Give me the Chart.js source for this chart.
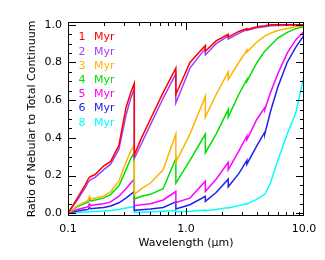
<!DOCTYPE html>
<html>
<head>
<meta charset="utf-8">
<script src="https://cdn.jsdelivr.net/npm/chart.js@4.4.1/dist/chart.umd.min.js"></script>
<style>
  html, body { margin: 0; padding: 0; background: #fff; }
  #wrap { width: 325px; height: 260px; position: relative; }
</style>
</head>
<body>
<div id="wrap"><canvas id="mycanvas" width="325" height="260"></canvas></div>
<script>
// wavelength grid (micron); repeated values are the jumps
var wavelength = [0.1, 0.12, 0.14, 0.148, 0.152, 0.156, 0.17, 0.2, 0.23, 0.27, 0.31, 0.34, 0.3646, 0.3646,
    0.42, 0.5, 0.64, 0.8204, 0.8204, 1.08, 1.4584, 1.4584, 1.8, 2.279, 2.279, 2.8, 3.28, 3.28,
    4.0, 4.65, 4.65, 5.2, 6.0, 7.2, 8.5, 10.0];

var myr1 = [0.0, 0.08, 0.15, 0.18, 0.19, 0.195, 0.205, 0.25, 0.275, 0.36, 0.56, 0.64, 0.69, 0.31,
    0.40, 0.50, 0.64, 0.77, 0.63, 0.80, 0.89, 0.86, 0.915, 0.95, 0.935, 0.965, 0.98, 0.975,
    0.99, 0.995, 0.995, 1.0, 1.0, 1.0, 1.0, 1.0];
var myr2 = [0.0, 0.07, 0.135, 0.165, 0.172, 0.178, 0.19, 0.23, 0.26, 0.34, 0.52, 0.61, 0.66, 0.29,
    0.37, 0.47, 0.61, 0.74, 0.585, 0.77, 0.875, 0.84, 0.90, 0.94, 0.925, 0.955, 0.975, 0.97,
    0.985, 0.99, 0.99, 0.995, 0.997, 0.998, 0.999, 1.0];
var myr3 = [0.0, 0.04, 0.06, 0.068, 0.09, 0.075, 0.08, 0.09, 0.115, 0.17, 0.27, 0.33, 0.36, 0.10,
    0.13, 0.16, 0.23, 0.42, 0.27, 0.42, 0.62, 0.51, 0.63, 0.75, 0.71, 0.80, 0.865, 0.855,
    0.91, 0.94, 0.94, 0.955, 0.97, 0.98, 0.99, 0.995];
var myr4 = [0.0, 0.035, 0.052, 0.058, 0.075, 0.065, 0.07, 0.08, 0.10, 0.145, 0.23, 0.29, 0.32, 0.075,
    0.09, 0.10, 0.13, 0.29, 0.16, 0.28, 0.42, 0.32, 0.42, 0.55, 0.51, 0.63, 0.71, 0.70,
    0.80, 0.86, 0.86, 0.89, 0.93, 0.96, 0.98, 0.99];
var myr5 = [0.0, 0.02, 0.03, 0.034, 0.05, 0.04, 0.045, 0.05, 0.06, 0.09, 0.13, 0.16, 0.18, 0.04,
    0.045, 0.05, 0.07, 0.115, 0.057, 0.08, 0.17, 0.115, 0.18, 0.27, 0.23, 0.33, 0.41, 0.39,
    0.50, 0.56, 0.55, 0.64, 0.74, 0.85, 0.92, 0.965];
var myr6 = [0.0, 0.012, 0.018, 0.02, 0.03, 0.024, 0.026, 0.03, 0.038, 0.055, 0.08, 0.10, 0.115, 0.015,
    0.018, 0.022, 0.03, 0.06, 0.022, 0.045, 0.09, 0.063, 0.11, 0.18, 0.14, 0.21, 0.28, 0.26,
    0.36, 0.43, 0.42, 0.54, 0.67, 0.80, 0.88, 0.945];
var myr8 = [0.0, 0.003, 0.006, 0.007, 0.009, 0.008, 0.009, 0.011, 0.014, 0.02, 0.027, 0.032, 0.036, 0.004,
    0.005, 0.007, 0.01, 0.014, 0.008, 0.01, 0.017, 0.013, 0.02, 0.03, 0.027, 0.04, 0.05, 0.048,
    0.075, 0.10, 0.10, 0.16, 0.28, 0.42, 0.53, 0.73];

var ages = ['1', '2', '3', '4', '5', '6', '8'];
var series = [myr1, myr2, myr3, myr4, myr5, myr6, myr8];
var colors = ['#ff0000', '#a040ff', '#ffb400', '#00e000', '#ff00ff', '#2020f0', '#00ffff'];
var xTicks = [0.1, 1, 10];
var yTicks = [0, 0.2, 0.4, 0.6, 0.8, 1.0];

var font = "'DejaVu Sans', sans-serif";

var datasets = [];
for (var i in series) {
    datasets.push({
        label: ages[i] + ' Myr',
        data: wavelength.map(function(w, j) { return {x: w, y: series[i][j]}; }),
        borderColor: colors[i],
        borderWidth: 1.5,
        pointRadius: 0,
        tension: 0,
        fill: false
    });
}

// IDL style: frame with inward ticks on all four sides + legend text
var framePlugin = {
    id: 'frame',
    afterDraw: function(chart) {
        var ctx = chart.ctx;
        var a = chart.chartArea;
        var xs = chart.scales.x, ys = chart.scales.y;
        ctx.save();
        ctx.strokeStyle = '#000';
        ctx.lineWidth = 1;
        ctx.strokeRect(a.left + 0.5, a.top + 0.5, a.right - a.left - 1, a.bottom - a.top - 1);
        ctx.beginPath();
        var decades = [0.1, 1];
        decades.forEach(function(d) {
            for (var k = 1; k <= 9; k++) {
                var v = d * k;
                var px = Math.round(xs.getPixelForValue(v)) + 0.5;
                var len = (k === 1) ? 8 : 4;
                ctx.moveTo(px, a.bottom); ctx.lineTo(px, a.bottom - len);
                ctx.moveTo(px, a.top); ctx.lineTo(px, a.top + len);
            }
        });
        for (var m = 0; m <= 20; m++) {
            var py = Math.round(ys.getPixelForValue(m * 0.05)) + 0.5;
            var l = (m % 4 === 0) ? 8 : 4;
            ctx.moveTo(a.left, py); ctx.lineTo(a.left + l, py);
            ctx.moveTo(a.right, py); ctx.lineTo(a.right - l, py);
        }
        ctx.stroke();

        // legend
        ctx.font = '11px ' + font;
        ctx.textBaseline = 'middle';
        chart.data.datasets.forEach(function(ds, n) {
            var y = 37.5 + n * 14.2;
            ctx.fillStyle = ds.borderColor;
            ctx.textAlign = 'center';
            ctx.fillText(ages[n], 82, y);
            ctx.textAlign = 'left';
            ctx.fillText('Myr', 94, y);
        });
        ctx.restore();
    }
};

var ctx = document.getElementById('mycanvas');
var chart = new Chart(ctx, {
    type: 'line',
    data: { datasets: datasets },
    plugins: [framePlugin],
    options: {
        responsive: false,
        animation: false,
        layout: { padding: { left: 0, top: 22, right: 21, bottom: 0 } },
        plugins: { legend: { display: false }, tooltip: { enabled: false } },
        scales: {
            x: {
                type: 'logarithmic',
                min: 0.1,
                max: 10,
                afterBuildTicks: function(scale) {
                    scale.ticks = xTicks.map(function(v) { return {value: v, major: true}; });
                },
                afterFit: function(scale) { scale.height = 44; },
                grid: { display: false, drawTicks: false },
                border: { display: false },
                ticks: {
                    color: '#000',
                    padding: 7,
                    maxRotation: 0,
                    autoSkip: false,
                    font: { family: font, size: 11 },
                    callback: function(v) { return v < 1 ? '0.1' : Number(v).toFixed(1); }
                },
                title: {
                    display: true,
                    text: 'Wavelength (\u03bcm)',
                    color: '#000',
                    font: { family: font, size: 11 },
                    padding: { top: 0, bottom: 10 }
                }
            },
            y: {
                min: -0.015,
                max: 1.015,
                afterBuildTicks: function(scale) {
                    scale.ticks = yTicks.map(function(v) { return {value: v}; });
                },
                afterFit: function(scale) { scale.width = 68; },
                grid: { display: false, drawTicks: false },
                border: { display: false },
                ticks: {
                    color: '#000',
                    padding: 6,
                    font: { family: font, size: 11 },
                    callback: function(v) { return Number(v).toFixed(1); }
                },
                title: {
                    display: true,
                    text: 'Ratio of Nebular to Total Continuum',
                    color: '#000',
                    font: { family: font, size: 11 },
                    padding: { top: 26, bottom: 0 }
                }
            }
        }
    }
});
</script>
</body>
</html>
